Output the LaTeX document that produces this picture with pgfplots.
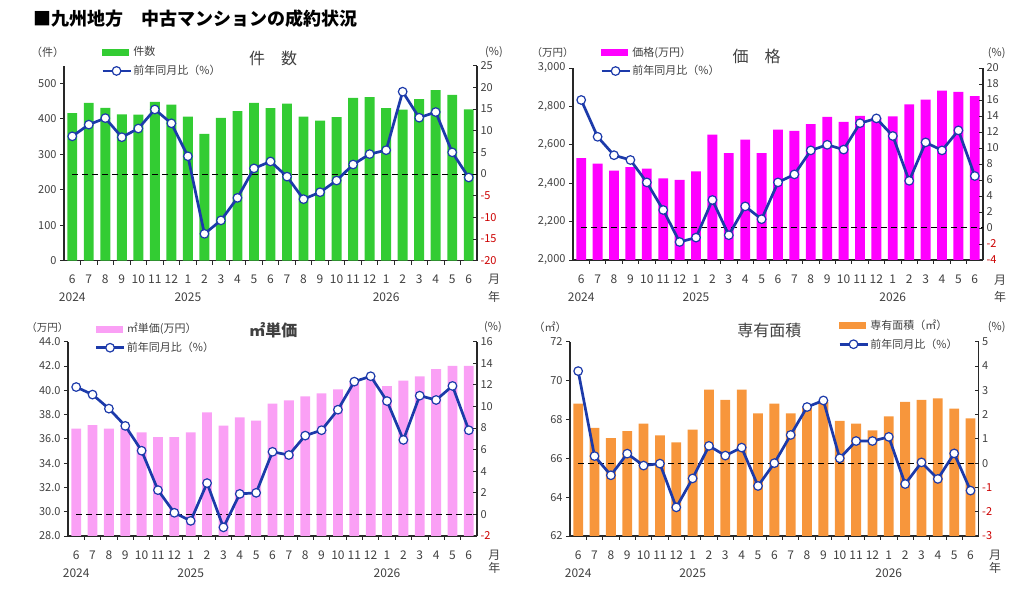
\documentclass[border=0pt]{standalone}
\usepackage{fontspec}
\setmainfont{Noto Sans CJK JP}
\usepackage{pgfplots}
\pgfplotsset{compat=1.18}
\definecolor{mygreen}{RGB}{51,204,51}
\definecolor{mymag}{RGB}{255,0,255}
\definecolor{mypink}{RGB}{250,160,245}
\definecolor{myorange}{RGB}{247,150,60}
\definecolor{lineblue}{RGB}{28,58,170}
\definecolor{txtgray}{RGB}{64,64,64}
\definecolor{axgray}{RGB}{40,40,40}
\definecolor{negred}{RGB}{204,0,0}
\newcommand{\fs}[2]{\fontsize{#1}{#2}\selectfont}
\newcommand{\rn}[1]{\textcolor{negred}{#1}}
\pgfplotsset{
  barax/.style={
    scale only axis, xmin=-0.5, xmax=24.5,
    axis x line*=bottom, axis y line*=left,
    axis line style={-, draw=axgray, line width=1.2pt},
    every outer x axis line/.append style={-},
    every outer y axis line/.append style={-},
    xtick={0,...,24},
    xticklabels={{6\\2024},7,8,9,10,11,12,{1\\2025},2,3,4,5,6,7,8,9,10,11,12,{1\\2026},2,3,4,5,6},
    minor x tick num=1,
    major x tick style={draw=none},
    minor x tick style={draw=axgray, line width=0.8pt},
    ytick style={draw=axgray, line width=0.8pt},
    minor tick length=4pt, major tick length=4pt,
    xtick align=inside, ytick align=outside,
    tick label style={font=\fs{11}{13}, text=txtgray},
    xticklabel style={font=\fs{12}{18}, align=center, yshift=-7pt},
    ybar, bar width=0.6,
  },
  lineax/.style={
    scale only axis, xmin=-0.5, xmax=24.5,
    axis x line=none, axis y line*=right,
    axis line style={-, draw=axgray, line width=1.2pt},
    every outer y axis line/.append style={-},
    xtick=\empty,
    ytick style={draw=axgray, line width=0.8pt},
    major tick length=4pt, ytick align=inside,
    tick label style={font=\fs{11}{13}, text=txtgray},
    legend style={draw=none, fill=none, anchor=north west, inner sep=0pt,
      row sep=5pt, font=\fs{11}{13}, text=txtgray,
      nodes={inner sep=1.5pt}},
    legend cell align=left,
  },
  lineplot/.style={draw=lineblue, line width=2.7pt, mark=*, mark size=4.3pt,
    mark options={fill=white, draw=lineblue, line width=1.2pt, solid},
    legend image code/.code={\draw[mark repeat=2,mark phase=2,##1] plot coordinates {(0pt,0pt) (14pt,0pt) (28pt,0pt)};}},
  zeroline/.style={draw=black, dashed, dash pattern=on 6pt off 4pt, line width=1pt, forget plot, mark=none},
}
\begin{document}
\begin{tikzpicture}
\useasboundingbox (0pt,0pt) rectangle (1013pt,591pt);
% ---------- Panel 1 ----------
\begin{axis}[barax, at={(64pt,330.3pt)}, anchor=south west, width=413pt, height=195pt,
  ymin=0, ymax=550, ytick={0,100,...,500}, yticklabels={0,100,200,300,400,500}]
\addplot[fill=mygreen, draw=none] coordinates {(0,416)(1,445)(2,431)(3,413)(4,412)(5,448)(6,440)(7,406)(8,358)(9,403)(10,422)(11,445)(12,430)(13,443)(14,406)(15,395)(16,405)(17,459)(18,461)(19,430)(20,426)(21,456)(22,481)(23,468)(24,427)};
\end{axis}
\begin{axis}[lineax, at={(64pt,330.3pt)}, anchor=south west, width=413pt, height=195pt,
  ymin=-20, ymax=25, ytick={-20,-15,...,25}, yticklabels={\rn{-20},\rn{-15},\rn{-10},\rn{-5},0,5,10,15,20,25},
  legend style={at={(0.0896,1.106)}}]
\addlegendimage{legend image code/.code={\fill[mygreen] (0pt,-3pt) rectangle (26pt,3pt);}}
\addlegendentry{件数}
\addplot[zeroline] coordinates {(0,0)(24.5,0)};
\addplot[lineplot] coordinates {(0,8.7)(1,11.4)(2,12.9)(3,8.5)(4,10.5)(5,14.9)(6,11.7)(7,4.1)(8,-13.8)(9,-10.7)(10,-5.5)(11,1.3)(12,2.9)(13,-0.6)(14,-5.8)(15,-4.2)(16,-1.5)(17,2.2)(18,4.6)(19,5.5)(20,19.0)(21,13.0)(22,14.3)(23,5.0)(24,-0.8)};
\addlegendentry{前年同月比（\%）}
\end{axis}
% ---------- Panel 2 ----------
\begin{axis}[barax, at={(573pt,331pt)}, anchor=south west, width=410pt, height=192pt,
  ymin=2000, ymax=3000, ytick={2000,2200,...,3000}, yticklabels={{2,000},{2,200},{2,400},{2,600},{2,800},{3,000}}]
\addplot[fill=mymag, draw=none] coordinates {(0,2531)(1,2502)(2,2465)(3,2484)(4,2476)(5,2425)(6,2417)(7,2462)(8,2653)(9,2557)(10,2627)(11,2557)(12,2679)(13,2672)(14,2708)(15,2745)(16,2719)(17,2750)(18,2742)(19,2748)(20,2811)(21,2835)(22,2882)(23,2875)(24,2854)};
\end{axis}
\begin{axis}[lineax, at={(573pt,331pt)}, anchor=south west, width=410pt, height=192pt,
  ymin=-4, ymax=20, ytick={-4,-2,...,20}, yticklabels={\rn{-4},\rn{-2},0,2,4,6,8,10,12,14,16,18,20},
  legend style={at={(0.0659,1.120)}}]
\addlegendimage{legend image code/.code={\fill[mymag] (0pt,-3pt) rectangle (26pt,3pt);}}
\addlegendentry{価格(万円）}
\addplot[zeroline] coordinates {(0,0)(24.5,0)};
\addplot[lineplot] coordinates {(0,16.0)(1,11.4)(2,9.1)(3,8.5)(4,5.7)(5,2.25)(6,-1.75)(7,-1.2)(8,3.5)(9,-0.9)(10,2.7)(11,1.1)(12,5.7)(13,6.7)(14,9.7)(15,10.4)(16,9.8)(17,13.1)(18,13.7)(19,11.5)(20,5.9)(21,10.7)(22,9.7)(23,12.2)(24,6.5)};
\addlegendentry{前年同月比（\%）}
\end{axis}
% ---------- Panel 3 ----------
\begin{axis}[barax, at={(68pt,55pt)}, anchor=south west, width=409pt, height=194.3pt,
  ymin=28, ymax=44, ytick={28,30,...,44}, yticklabels={28.0,30.0,32.0,34.0,36.0,38.0,40.0,42.0,44.0}]
\addplot[fill=mypink, draw=none] coordinates {(0,36.84)(1,37.14)(2,36.84)(3,36.9)(4,36.53)(5,36.15)(6,36.15)(7,36.53)(8,38.18)(9,37.08)(10,37.77)(11,37.5)(12,38.9)(13,39.17)(14,39.5)(15,39.75)(16,40.07)(17,40.6)(18,40.9)(19,40.35)(20,40.79)(21,41.14)(22,41.75)(23,42.0)(24,42.0)};
\end{axis}
\begin{axis}[lineax, at={(68pt,55pt)}, anchor=south west, width=409pt, height=194.3pt,
  ymin=-2, ymax=16, ytick={-2,0,...,16}, yticklabels={\rn{-2},0,2,4,6,8,10,12,14,16},
  legend style={at={(0.0648,1.104)}}]
\addlegendimage{legend image code/.code={\fill[mypink] (0pt,-3pt) rectangle (26pt,3pt);}}
\addlegendentry{㎡単価(万円）}
\addplot[zeroline] coordinates {(0,0)(24.5,0)};
\addplot[lineplot] coordinates {(0,11.8)(1,11.1)(2,9.8)(3,8.2)(4,5.9)(5,2.25)(6,0.15)(7,-0.6)(8,2.9)(9,-1.2)(10,1.9)(11,2.0)(12,5.8)(13,5.5)(14,7.3)(15,7.8)(16,9.7)(17,12.3)(18,12.8)(19,10.5)(20,6.9)(21,11.0)(22,10.6)(23,11.9)(24,7.8)};
\addlegendentry{前年同月比（\%）}
\end{axis}
% ---------- Panel 4 ----------
\begin{axis}[barax, at={(570pt,55pt)}, anchor=south west, width=408.7pt, height=194.3pt,
  ymin=62, ymax=72, ytick={62,64,...,72}, yticklabels={62,64,66,68,70,72}]
\addplot[fill=myorange, draw=none] coordinates {(0,68.81)(1,67.56)(2,67.04)(3,67.40)(4,67.78)(5,67.18)(6,66.82)(7,67.47)(8,69.53)(9,69.0)(10,69.53)(11,68.31)(12,68.81)(13,68.31)(14,68.6)(15,68.9)(16,67.92)(17,67.78)(18,67.44)(19,68.16)(20,68.9)(21,69.0)(22,69.08)(23,68.55)(24,68.05)};
\end{axis}
\begin{axis}[lineax, at={(570pt,55pt)}, anchor=south west, width=408.7pt, height=194.3pt,
  ymin=-3, ymax=5, ytick={-3,-2,...,5}, yticklabels={\rn{-3},\rn{-2},\rn{-1},0,1,2,3,4,5},
  legend style={at={(0.6557,1.122)}}]
\addlegendimage{legend image code/.code={\fill[myorange] (0pt,-3pt) rectangle (26pt,3pt);}}
\addlegendentry{専有面積（㎡）}
\addplot[zeroline] coordinates {(0,0)(24.5,0)};
\addplot[lineplot] coordinates {(0,3.79)(1,0.29)(2,-0.5)(3,0.39)(4,-0.1)(5,-0.02)(6,-1.82)(7,-0.63)(8,0.71)(9,0.31)(10,0.64)(11,-0.94)(12,0.0)(13,1.16)(14,2.31)(15,2.58)(16,0.2)(17,0.91)(18,0.91)(19,1.08)(20,-0.86)(21,0.03)(22,-0.65)(23,0.4)(24,-1.13)};
\addlegendentry{前年同月比（\%）}
\end{axis}
% ---------- Texts ----------
\node[anchor=west, font=\fs{18}{20}\bfseries, text=black] at (30pt,572pt) {■九州地方　中古マンションの成約状況};
\begin{scope}[every node/.style={text=txtgray, font=\fs{11}{13}}]
\node at (47.5pt,539pt) {（件）};
\node at (494pt,539pt) {(\%)};
\node[font=\fs{16}{18}] at (273pt,533pt) {件　数};
\node[font=\fs{12}{14}] at (494pt,312pt) {月};
\node[font=\fs{12}{14}] at (494pt,294.3pt) {年};
\node[font=\fs{10.5}{12}] at (552.5pt,538.3pt) {（万円）};
\node at (996.7pt,538.3pt) {(\%)};
\node[font=\fs{16}{18}] at (756.7pt,535pt) {価　格};
\node[font=\fs{12}{14}] at (1000pt,311pt) {月};
\node[font=\fs{12}{14}] at (1000pt,294.3pt) {年};
\node[font=\fs{10.5}{12}] at (47.5pt,263.7pt) {（万円）};
\node at (493pt,263.7pt) {(\%)};
\node[font=\fs{16}{18}\bfseries] at (273.3pt,260.3pt) {㎡単価};
\node[font=\fs{12}{14}] at (494.3pt,36pt) {月};
\node[font=\fs{12}{14}] at (494.3pt,22.7pt) {年};
\node at (550pt,263.7pt) {（㎡）};
\node at (996.7pt,263.7pt) {(\%)};
\node[font=\fs{16}{18}] at (769.3pt,261pt) {専有面積};
\node[font=\fs{12}{14}] at (995pt,36pt) {月};
\node[font=\fs{12}{14}] at (995pt,22.7pt) {年};
\end{scope}
\end{tikzpicture}
\end{document}
